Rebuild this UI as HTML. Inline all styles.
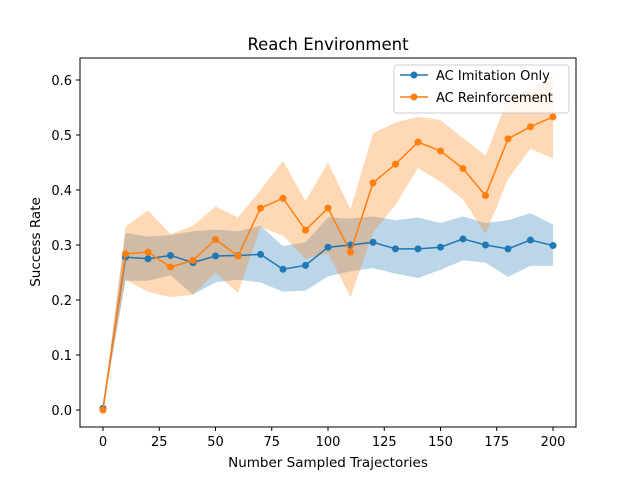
<!DOCTYPE html>
<html><head><meta charset="utf-8"><style>
body{margin:0;background:#fff;}
svg{font-family:"DejaVu Sans","Liberation Sans",sans-serif;display:block;}
</style></head><body>
<svg id="chart" width="640" height="480" viewBox="0 0 640 480">
<rect width="640" height="480" fill="#fff"/>
<text x="328" y="50" font-size="16.5" text-anchor="middle">Reach Environment</text>
<g id="bands"></g><g id="grid"></g><g id="lines"></g>
<rect x="80" y="58" width="496" height="369" fill="none" stroke="#000" stroke-width="1"/>
<text x="328" y="467" font-size="13.5" text-anchor="middle">Number Sampled Trajectories</text>
<text transform="translate(40,242) rotate(-90)" font-size="13.5" text-anchor="middle">Success Rate</text>
<g>
<rect x="394" y="65" width="175" height="48" rx="3" fill="#fff" fill-opacity="0.8" stroke="#ccc"/>
<g>
<line x1="400" y1="75" x2="428" y2="75" stroke="#1f77b4" stroke-width="1.5"/><circle cx="414" cy="75" r="3.5" fill="#1f77b4"/>
<text x="436" y="80" font-size="13">AC Imitation Only</text></g>
<g>
<line x1="400" y1="97" x2="428" y2="97" stroke="#ff7f0e" stroke-width="1.5"/><circle cx="414" cy="97" r="3.5" fill="#ff7f0e"/>
<text x="436" y="102" font-size="13">AC Reinforcement</text></g>
</g>
</svg>
<script>
const xs=[0,10,20,30,40,50,60,70,80,90,100,110,120,130,140,150,160,170,180,190,200];
const imitation=[0.003,0.278,0.275,0.281,0.268,0.280,0.281,0.283,0.256,0.263,0.296,0.300,0.305,0.293,0.293,0.296,0.311,0.300,0.293,0.309,0.299];
const imitationUpper=[0.003,0.322,0.315,0.318,0.325,0.328,0.325,0.335,0.298,0.305,0.350,0.348,0.352,0.345,0.350,0.340,0.352,0.340,0.345,0.358,0.337];
const imitationLower=[0.003,0.235,0.235,0.245,0.210,0.232,0.237,0.232,0.215,0.217,0.243,0.252,0.258,0.248,0.240,0.255,0.272,0.268,0.242,0.262,0.262];
const reinforcement=[0.0,0.284,0.287,0.260,0.272,0.310,0.280,0.367,0.385,0.327,0.367,0.287,0.413,0.447,0.487,0.471,0.439,0.390,0.493,0.515,0.533];
const reinforcementUpper=[0,0.333,0.363,0.320,0.335,0.370,0.350,0.400,0.453,0.380,0.450,0.365,0.503,0.523,0.533,0.527,0.495,0.462,0.567,0.583,0.610];
const reinforcementLower=[0,0.237,0.215,0.205,0.210,0.250,0.213,0.333,0.317,0.275,0.285,0.205,0.323,0.373,0.440,0.415,0.383,0.320,0.420,0.475,0.457];
const xTicks=[0,25,50,75,100,125,150,175,200];
const yTicks=[0.0,0.1,0.2,0.3,0.4,0.5,0.6];
const ns="http://www.w3.org/2000/svg";
const X=v=>103+v*2.25, Y=v=>410-v*550;
function mk(t,a,p){const e=document.createElementNS(ns,t);for(const k in a)e.setAttribute(k,a[k]);p.appendChild(e);return e;}
const bands=document.getElementById('bands'),grid=document.getElementById('grid'),lines=document.getElementById('lines');
function band(u,l,c,name){const pts=xs.map((x,i)=>X(x)+','+Y(u[i])).concat(xs.map((x,i)=>X(x)+','+Y(l[i])).reverse());
const p=mk('polygon',{points:pts.join(' '),fill:c,'fill-opacity':0.3},bands);

}
band(imitationUpper,imitationLower,'#1f77b4','band-imitation');
band(reinforcementUpper,reinforcementLower,'#ff7f0e','band-reinforcement');
xTicks.forEach(t=>{mk('line',{x1:X(t),x2:X(t),y1:427,y2:431,stroke:'#000'},grid);
const tx=mk('text',{x:X(t),y:446,'font-size':13,'text-anchor':'middle'},grid);tx.textContent=t;

});
yTicks.forEach(t=>{mk('line',{x1:76,x2:80,y1:Y(t),y2:Y(t),stroke:'#000'},grid);
const tx=mk('text',{x:72,y:Y(t)+5,'font-size':13,'text-anchor':'end'},grid);tx.textContent=t.toFixed(1);

});
function series(v,c,name){const l=mk('polyline',{points:xs.map((x,i)=>X(x)+','+Y(v[i])).join(' '),fill:'none',stroke:c,'stroke-width':1.5},lines);


xs.forEach((x,i)=>{const p=mk('circle',{cx:X(x),cy:Y(v[i]),r:3.5,fill:c},lines);

});}
series(imitation,'#1f77b4','imitation');
series(reinforcement,'#ff7f0e','reinforcement');
</script>
</body></html>
